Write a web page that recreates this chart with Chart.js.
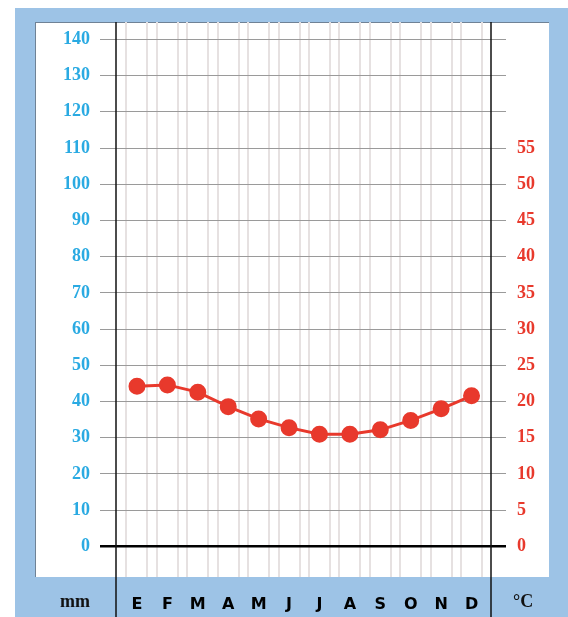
<!DOCTYPE html>
<html>
<head>
<meta charset="utf-8">
<script src="https://cdn.jsdelivr.net/npm/chart.js@4"></script>
<style>
  html, body { margin: 0; padding: 0; background: #fff; }
  #wrap { position: relative; width: 568px; height: 617px; overflow: hidden; }
  .bg { position: absolute; left: 15px; top: 8px; right: 0; bottom: 0; background: #9dc3e6; }
  .panel { position: absolute; left: 35px; top: 22px; width: 514px; height: 555px; background: #fff;
           border-top: 1px solid #6f8296; border-left: 1px solid #6f8296; box-sizing: border-box; }
  #chart { position: absolute; left: 0; top: 0; }
  .unit { position: absolute; top: 591px; font: bold 18px "Liberation Serif", serif; color: #111; }
</style>
</head>
<body>
<div id="wrap">
  <div class="bg"></div>
  <div class="panel"></div>
  <canvas id="chart" width="568" height="617"></canvas>
  <div class="unit" style="left:60px">mm</div>
  <div class="unit" style="left:513px">°C</div>
</div>
<script>
// Climograph: temperature line on a mm / °C grid
const months = ['E', 'F', 'M', 'A', 'M', 'J', 'J', 'A', 'S', 'O', 'N', 'D'];
const temperature = [22.1, 22.3, 21.3, 19.3, 17.6, 16.4, 15.5, 15.5, 16.1, 17.4, 19.0, 20.8];
const mmTicks = [0, 10, 20, 30, 40, 50, 60, 70, 80, 90, 100, 110, 120, 130, 140];
const tempTicks = [0, 5, 10, 15, 20, 25, 30, 35, 40, 45, 50, 55];

const BLUE = '#2aaae2';
const RED = '#e8392c';
const X_MIN = -0.69, X_MAX = 11.64;

const gridColor = ctx => (ctx.tick && ctx.tick.value === 0) ? '#000' : '#9a9a9a';
const gridWidth = ctx => (ctx.tick && ctx.tick.value === 0) ? 2.5 : 1;

// black frame lines running down into the blue band
const frameLines = {
  id: 'frameLines',
  afterDraw(chart) {
    const { ctx, chartArea } = chart;
    ctx.save();
    ctx.strokeStyle = '#111';
    ctx.lineWidth = 1.5;
    [chartArea.left, chartArea.right].forEach(x => {
      ctx.beginPath();
      ctx.moveTo(x, chartArea.top);
      ctx.lineTo(x, chart.height);
      ctx.stroke();
    });
    ctx.restore();
  }
};

new Chart(document.getElementById('chart'), {
  type: 'line',
  data: {
    datasets: [{
      data: temperature.map((t, i) => ({ x: i, y: t })),
      xAxisID: 'x',
      yAxisID: 'yT',
      borderColor: RED,
      backgroundColor: RED,
      pointBackgroundColor: RED,
      pointBorderColor: RED,
      borderWidth: 3,
      pointRadius: 7,
      pointHoverRadius: 7,
    }],
  },
  options: {
    responsive: false,
    animation: false,
    layout: { padding: { top: 22, left: 0, right: 0, bottom: 0 } },
    plugins: { legend: { display: false }, tooltip: { enabled: false } },
    scales: {
      x: {
        type: 'linear',
        position: 'bottom',
        min: X_MIN, max: X_MAX,
        afterBuildTicks: s => { s.ticks = months.flatMap((m, i) => [{ value: i - 0.345 }, { value: i + 0.345 }]); },
        ticks: { display: false },
        grid: { color: '#e6e1e1', lineWidth: 2, drawTicks: false },
        border: { display: false },
        afterFit: s => { s.height = 0; },
      },
      xm: {
        type: 'linear',
        position: 'bottom',
        min: X_MIN, max: X_MAX,
        afterBuildTicks: s => { s.ticks = months.map((m, i) => ({ value: i })); },
        ticks: {
          autoSkip: false,
          maxRotation: 0,
          padding: 18,
          color: '#000',
          font: { family: 'DejaVu Sans', size: 16, weight: 'bold' },
          callback: v => months[v],
        },
        grid: { display: false, drawTicks: false },
        border: { display: false },
        afterFit: s => { s.height = 40; },
      },
      y: {
        position: 'left',
        min: -8.44, max: 144.8,
        afterBuildTicks: s => { s.ticks = mmTicks.map(v => ({ value: v })); },
        ticks: {
          padding: 10,
          color: BLUE,
          font: { family: 'Liberation Serif', size: 18, weight: 'bold' },
        },
        grid: { color: gridColor, lineWidth: gridWidth, tickLength: 16 },
        border: { display: false },
        afterFit: s => { s.width = 116; },
      },
      yT: {
        position: 'right',
        min: -4.22, max: 72.4,
        afterBuildTicks: s => { s.ticks = mmTicks.map(v => ({ value: v / 2 })); },
        ticks: {
          padding: 11,
          color: RED,
          font: { family: 'Liberation Serif', size: 18, weight: 'bold' },
          callback: v => tempTicks.includes(v) ? v : '',
        },
        grid: { drawOnChartArea: false, color: gridColor, lineWidth: gridWidth, tickLength: 15 },
        border: { display: false },
        afterFit: s => { s.width = 77; },
      },
    },
  },
  plugins: [frameLines],
});
</script>
</body>
</html>
